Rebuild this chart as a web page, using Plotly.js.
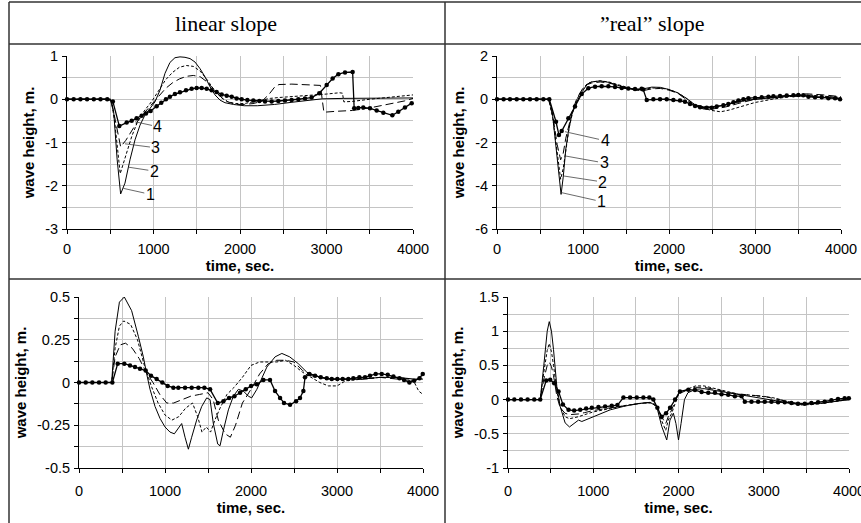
<!DOCTYPE html>
<html>
<head>
<meta charset="utf-8">
<script src="https://cdn.plot.ly/plotly-3.0.1.min.js"></script>
<style>html,body{margin:0;padding:0;background:#fff;}#chart{width:861px;height:523px;}</style>
</head>
<body>
<div id="chart"></div>
<script>
// ---------- Panel headers ----------
const HEADERS = ["linear slope", "\u201Dreal\u201D slope"];
const X_TITLE = "time, sec.";
const Y_TITLE = "wave height, m.";
const SERIES_LABELS = ["1", "2", "3", "4"];

// ---------- Ticks ----------
const X_TICKS = [0, 1000, 2000, 3000, 4000];
const X_TICKTEXT = ["0", "1000", "2000", "3000", "4000"];
const X_MINOR = [500, 1500, 2500, 3500];

const P1_YTICKS = [-3, -2, -1, 0, 1];
const P1_YTEXT = ["-3", "-2", "-1", "0", "1"];
const P1_YMINOR = [-2.5, -1.5, -0.5, 0.5];
const P2_YTICKS = [-6, -4, -2, 0, 2];
const P2_YTEXT = ["-6", "-4", "-2", "0", "2"];
const P2_YMINOR = [-5, -3, -1, 1];
const P3_YTICKS = [-0.5, -0.25, 0, 0.25, 0.5];
const P3_YTEXT = ["-0.5", "-0.25", "0", "0.25", "0.5"];
const P3_YMINOR = [-0.375, -0.125, 0.125, 0.375];
const P4_YTICKS = [-1, -0.5, 0, 0.5, 1, 1.5];
const P4_YTEXT = ["-1", "-0.5", "0", "0.5", "1", "1.5"];
const P4_YMINOR = [-0.75, -0.25, 0.25, 0.75, 1.25];

// ---------- Panel 1: linear slope (top) ----------
const P1_T1 = [0,500,540,580,620,670,728,786,844,902,960,1017,1075,1133,1190,1248,1306,1364,1422,1480,1537,1595,1653,1711,1769,1826,1923,2050,2200,2400,2600,2800,2950,3200,3500,3800,4000];
const P1_Y1 = [0,0,-0.3,-1.4,-2.19,-1.94,-1.40,-0.94,-0.60,-0.36,-0.21,-0.06,0.21,0.60,0.85,0.96,0.98,0.97,0.94,0.86,0.71,0.52,0.29,0.10,-0.02,-0.08,-0.12,-0.15,-0.15,-0.12,-0.07,-0.02,0.01,0.02,0.02,0.03,0.03];
const P1_T2 = [0,510,550,615,680,750,820,900,980,1060,1140,1220,1300,1380,1460,1540,1620,1700,1780,1860,1950,2050,2150,2250,2350,2450,2600,2800,3000,3150,3185,3200,3300,3500,3700,3900,4000];
const P1_Y2 = [0,0,-0.5,-1.72,-1.3,-0.85,-0.5,-0.25,-0.05,0.2,0.45,0.62,0.74,0.78,0.76,0.65,0.45,0.22,0.04,-0.06,-0.1,-0.1,-0.06,-0.02,0.02,0.04,0.06,0.08,0.12,0.15,0.14,-0.06,-0.05,0.0,0.04,0.08,0.1];
const P1_T3 = [0,510,560,620,680,750,820,900,980,1060,1140,1220,1300,1380,1460,1540,1620,1700,1780,1860,1950,2050,2150,2250,2330,2400,2450,2600,2800,2930,2950,2970,3100,3300,3500,3700,3900,4000];
const P1_Y3 = [0,0,-0.5,-1.1,-0.95,-0.72,-0.5,-0.3,-0.12,0.08,0.25,0.38,0.47,0.53,0.55,0.52,0.4,0.22,0.05,-0.06,-0.12,-0.12,-0.1,-0.05,0.1,0.28,0.34,0.35,0.34,0.32,0.0,-0.3,-0.28,-0.26,-0.2,-0.12,-0.04,0.02];
const P1_T4 = [0,77,155,232,310,387,465,530,605,690,748,805,863,913,967,1036,1090,1144,1190,1248,1306,1376,1441,1499,1557,1615,1672,1730,1788,1846,1904,1961,2019,2085,2154,2223,2289,2366,2443,2520,2597,2674,2751,2828,2917,3002,3071,3137,3214,3302,3320,3368,3425,3503,3580,3657,3761,3830,3907,3985];
const P1_Y4 = [0,0,0,0,0,0,0,-0.05,-0.62,-0.54,-0.50,-0.44,-0.38,-0.33,-0.27,-0.16,-0.08,0,0.06,0.12,0.16,0.21,0.24,0.26,0.26,0.24,0.21,0.17,0.11,0.08,0.06,0.02,0,-0.02,-0.03,-0.04,-0.05,-0.05,-0.04,-0.03,-0.02,0,0.02,0.04,0.14,0.33,0.48,0.58,0.62,0.63,-0.21,-0.20,-0.19,-0.21,-0.26,-0.31,-0.37,-0.29,-0.19,-0.09];
const P1_LABEL_X = [651, 709, 670, 786];
const P1_LABEL_Y = [-2.06, -1.57, -1.03, -0.52];

// ---------- Panel 2: "real" slope (top) ----------
const P2_T1 = [0,600,640,680,720,745,770,800,830,870,930,990,1050,1100,1200,1300,1400,1500,1600,1700,1800,1900,2000,2100,2200,2300,2400,2500,2600,2700,2800,2900,3000,3200,3400,3600,3800,4000];
const P2_Y1 = [0,0,-0.5,-1.9,-3.6,-4.4,-3.6,-2.3,-1.5,-0.7,-0.1,0.35,0.7,0.8,0.85,0.78,0.65,0.52,0.45,0.48,0.56,0.55,0.45,0.3,0.05,-0.25,-0.35,-0.35,-0.3,-0.22,-0.12,-0.05,0.0,0.08,0.13,0.15,0.1,0.03];
const P2_T23 = [0,600,650,700,740,770,800,840,880,930,990,1050,1100,1200,1300,1400,1500,1600,1700,1800,1900,2000,2100,2200,2300,2400,2500,2600,2700,2800,2900,3000,3200,3400,3600,3800,4000];
const P2_Y2 = [0,0,-0.9,-2.6,-3.7,-3.2,-2.3,-1.3,-0.6,0,0.45,0.72,0.8,0.85,0.8,0.68,0.55,0.45,0.45,0.52,0.52,0.45,0.3,0.05,-0.25,-0.42,-0.52,-0.58,-0.5,-0.38,-0.25,-0.15,0.0,0.12,0.2,0.15,0.08];
const P2_Y3 = [0,0,-0.8,-2.1,-2.8,-2.5,-1.8,-1.1,-0.5,0.05,0.45,0.68,0.75,0.8,0.75,0.65,0.52,0.42,0.4,0.48,0.5,0.42,0.28,0.0,-0.3,-0.45,-0.45,-0.4,-0.32,-0.2,-0.1,0.0,0.08,0.18,0.25,0.2,0.12];
const P2_T4 = [0,77,151,229,306,384,461,539,608,686,720,752,830,907,985,1062,1140,1217,1295,1372,1450,1527,1605,1682,1700,1741,1818,1896,1973,2051,2128,2186,2245,2303,2361,2438,2497,2555,2632,2690,2749,2807,2865,2923,3001,3078,3156,3214,3291,3369,3446,3504,3562,3621,3698,3776,3853,3931,3989];
const P2_Y4 = [0,0,0,0,0,0,0,0,0,-1.04,-1.65,-1.47,-0.88,-0.34,0.24,0.51,0.58,0.6,0.6,0.57,0.52,0.5,0.47,0.48,0.45,-0.03,0,0,0,-0.03,-0.06,-0.11,-0.22,-0.31,-0.37,-0.39,-0.39,-0.34,-0.28,-0.22,-0.14,-0.06,0,0.05,0.06,0.09,0.12,0.14,0.15,0.17,0.18,0.2,0.18,0.12,0.09,0.09,0.05,0.05,0];
const P2_LABEL_X = [752, 779, 791, 791];
const P2_LABEL_Y = [-4.32, -3.55, -2.62, -1.50];

// ---------- Panel 3: linear slope (bottom) ----------
const P3_T1 = [0,380,420,470,527,612,690,748,787,826,884,942,1000,1058,1109,1155,1194,1233,1272,1310,1368,1427,1485,1524,1562,1613,1640,1679,1737,1795,1853,1911,1969,2008,2068,2184,2280,2359,2450,2550,2650,2750,2900,3100,3300,3500,3700,3900,4000];
const P3_Y1 = [0,0,0.3,0.47,0.50,0.42,0.27,0.15,0.05,-0.04,-0.14,-0.21,-0.26,-0.29,-0.30,-0.27,-0.24,-0.32,-0.39,-0.32,-0.22,-0.14,-0.09,-0.10,-0.24,-0.36,-0.37,-0.28,-0.16,-0.08,-0.04,-0.05,-0.08,-0.09,-0.04,0.09,0.15,0.17,0.15,0.11,0.06,0.04,0.02,0.02,0.02,0.03,0.03,0.02,0.02];
const P3_T2 = [0,380,420,470,520,600,680,760,840,920,1000,1080,1160,1240,1320,1380,1430,1480,1530,1580,1640,1720,1800,1900,2000,2100,2200,2300,2400,2500,2600,2700,2800,2900,3000,3100,3300,3500,3700,3850,3900,3950,4000];
const P3_Y2 = [0,0,0.2,0.33,0.36,0.34,0.25,0.1,-0.02,-0.12,-0.19,-0.22,-0.2,-0.15,-0.12,-0.2,-0.29,-0.26,-0.29,-0.22,-0.15,-0.07,-0.03,0.03,0.1,0.12,0.12,0.12,0.13,0.1,0.06,0.03,0,-0.02,-0.02,0.01,0.02,0.03,0.03,0.02,0.0,-0.05,-0.07];
const P3_T3 = [0,380,420,480,540,620,700,780,860,940,1020,1100,1200,1300,1400,1500,1560,1620,1700,1760,1820,1900,2000,2100,2200,2300,2400,2500,2600,2700,2800,2900,3000,3300,3500,3700,3900,4000];
const P3_Y3 = [0,0,0.15,0.22,0.23,0.2,0.14,0.06,0,-0.07,-0.12,-0.12,-0.1,-0.08,-0.07,-0.06,-0.1,-0.22,-0.3,-0.32,-0.25,-0.12,-0.04,0.05,0.11,0.13,0.13,0.12,0.07,0.04,0.03,0.02,0.02,0.02,0.03,0.02,0.01,0.03];
const P3_T4 = [0,78,155,233,310,388,450,527,593,651,709,775,837,903,969,1031,1097,1155,1233,1310,1388,1458,1524,1613,1679,1745,1807,1873,1939,2001,2067,2144,2221,2280,2338,2384,2454,2524,2570,2609,2628,2679,2745,2811,2881,2939,3004,3066,3132,3190,3260,3326,3384,3450,3520,3590,3656,3726,3780,3842,3897,3959,3997];
const P3_Y4 = [0,0,0,0,0,0,0.11,0.11,0.10,0.09,0.08,0.07,0.04,0.02,0,-0.02,-0.03,-0.03,-0.03,-0.03,-0.03,-0.03,-0.04,-0.12,-0.11,-0.09,-0.08,-0.06,-0.04,-0.02,-0.01,0.015,0.015,-0.05,-0.09,-0.12,-0.13,-0.11,-0.09,-0.05,0.03,0.05,0.04,0.03,0.025,0.02,0.02,0.02,0.02,0.025,0.03,0.03,0.04,0.05,0.05,0.045,0.035,0.025,0.015,0,0.01,0.025,0.05];

// ---------- Panel 4: "real" slope (bottom) ----------
const P4_T1 = [0,378,420,460,484,510,534,573,612,670,721,776,827,866,924,1041,1198,1354,1510,1666,1744,1803,1862,1900,1940,1970,2000,2030,2070,2110,2200,2300,2400,2500,2600,2700,2800,2900,3000,3100,3200,3300,3400,3500,3600,3700,3800,3900,4000];
const P4_Y1 = [0,0,0.5,1.0,1.14,1.0,0.73,0.19,-0.10,-0.34,-0.40,-0.35,-0.30,-0.32,-0.29,-0.22,-0.15,-0.10,-0.06,-0.04,-0.10,-0.39,-0.59,-0.3,-0.2,-0.35,-0.59,-0.35,0.0,0.1,0.15,0.16,0.14,0.12,0.1,0.08,0.06,0.04,0.02,0.0,-0.02,-0.05,-0.07,-0.07,-0.06,-0.05,-0.03,-0.01,0.0];
const P4_T23 = [0,378,420,460,484,510,534,573,612,670,721,776,827,900,1000,1200,1400,1600,1700,1760,1800,1850,1880,1920,1960,2000,2100,2200,2300,2400,2500,2600,2700,2800,2900,3000,3100,3200,3300,3400,3500,3600,3700,3800,3900,4000];
const P4_Y2 = [0,0,0.4,0.72,0.82,0.7,0.5,0.12,-0.1,-0.25,-0.28,-0.27,-0.25,-0.22,-0.18,-0.13,-0.08,-0.05,-0.05,-0.15,-0.3,-0.45,-0.3,-0.2,-0.05,0.08,0.15,0.2,0.2,0.17,0.14,0.11,0.08,0.07,0.06,0.05,0.03,0.0,-0.05,-0.08,-0.08,-0.07,-0.05,-0.03,-0.02,0.0];
const P4_Y3 = [0,0,0.3,0.5,0.55,0.48,0.35,0.05,-0.12,-0.2,-0.22,-0.22,-0.21,-0.19,-0.16,-0.12,-0.08,-0.05,-0.04,-0.12,-0.25,-0.35,-0.25,-0.15,-0.02,0.08,0.14,0.18,0.18,0.16,0.13,0.1,0.08,0.07,0.06,0.05,0.02,-0.01,-0.04,-0.06,-0.07,-0.06,-0.05,-0.03,-0.01,0.01];
const P4_T4 = [0,74,152,230,308,378,448,495,542,593,644,710,776,847,917,983,1061,1139,1217,1284,1354,1432,1510,1588,1658,1705,1752,1803,1854,1901,1960,2017,2115,2193,2271,2349,2427,2505,2583,2661,2739,2778,2856,2934,3012,3090,3168,3246,3324,3402,3481,3559,3637,3715,3793,3871,3949,3998];
const P4_Y4 = [0,0,0,0,0,0,0.28,0.29,0.24,0.12,-0.07,-0.15,-0.16,-0.15,-0.13,-0.12,-0.11,-0.10,-0.09,-0.08,0.03,0.03,0.03,0.03,0.03,0,-0.12,-0.25,-0.20,-0.12,0,0.12,0.145,0.14,0.11,0.10,0.10,0.08,0.07,0.05,0.05,-0.03,-0.03,-0.03,-0.03,-0.03,-0.04,-0.04,-0.05,-0.06,-0.06,-0.05,-0.04,-0.03,-0.01,0.01,0.02,0.02];

// ---------- Build ----------
const W = 861, H = 523;
const px = v => v / W;
const py = v => 1 - v / H;
const GRID = '#c4c4c4';
const FONT = 'Liberation Sans, Arial, sans-serif';

function lineTrace(x, y, xa, ya, dash, width) {
  return {x, y, xaxis: xa, yaxis: ya, type: 'scatter', mode: 'lines',
    line: {color: '#000', width: width || 1, dash: dash || 'solid'}, hoverinfo: 'skip'};
}
function markTrace(x, y, xa, ya) {
  return {x, y, xaxis: xa, yaxis: ya, type: 'scatter', mode: 'lines+markers', cliponaxis: false,
    line: {color: '#000', width: 1.3}, marker: {color: '#000', size: 4.5}, hoverinfo: 'skip'};
}

const traces = [
  lineTrace(P1_T1, P1_Y1, 'x', 'y', 'solid'),
  lineTrace(P1_T2, P1_Y2, 'x', 'y', '3px,2px'),
  lineTrace(P1_T3, P1_Y3, 'x', 'y', '8px,4px'),
  markTrace(P1_T4, P1_Y4, 'x', 'y'),
  lineTrace(P2_T1, P2_Y1, 'x2', 'y2', 'solid'),
  lineTrace(P2_T23, P2_Y2, 'x2', 'y2', '3px,2px'),
  lineTrace(P2_T23, P2_Y3, 'x2', 'y2', '8px,4px'),
  markTrace(P2_T4, P2_Y4, 'x2', 'y2'),
  lineTrace(P3_T1, P3_Y1, 'x3', 'y3', 'solid'),
  lineTrace(P3_T2, P3_Y2, 'x3', 'y3', '3px,2px'),
  lineTrace(P3_T3, P3_Y3, 'x3', 'y3', '8px,4px'),
  markTrace(P3_T4, P3_Y4, 'x3', 'y3'),
  lineTrace(P4_T1, P4_Y1, 'x4', 'y4', 'solid'),
  lineTrace(P4_T23, P4_Y2, 'x4', 'y4', '3px,2px'),
  lineTrace(P4_T23, P4_Y3, 'x4', 'y4', '8px,4px'),
  markTrace(P4_T4, P4_Y4, 'x4', 'y4')
];

function xaxis(domain, anchor, labStand, titleStand) {
  return {domain, anchor, range: [0, 4000], tickmode: 'array', tickvals: X_TICKS, ticktext: X_TICKTEXT,
    ticks: 'outside', ticklen: 4, tickcolor: '#000', ticklabelstandoff: labStand, ticklabeloverflow: 'allow',
    showline: true, linecolor: '#000', linewidth: 1, showgrid: true, gridcolor: GRID, gridwidth: 1,
    zeroline: false, tickfont: {family: FONT, size: 14.5, color: '#000'},
    minor: {tickvals: X_MINOR, ticks: 'outside', ticklen: 4, tickcolor: '#000', showgrid: true, gridcolor: GRID, gridwidth: 1},
    title: {text: X_TITLE, standoff: titleStand, font: {family: FONT, size: 15, color: '#000', weight: 'bold'}},
    fixedrange: true};
}
function yaxis(domain, anchor, range, tv, tt, mv, titleStand) {
  return {domain, anchor, range, tickmode: 'array', tickvals: tv, ticktext: tt,
    ticks: 'outside', ticklen: 4, tickcolor: '#000', ticklabelstandoff: 1, ticklabeloverflow: 'allow',
    showline: true, linecolor: '#000', linewidth: 1, showgrid: true, gridcolor: GRID, gridwidth: 1,
    zeroline: false, tickfont: {family: FONT, size: 14.5, color: '#000'},
    minor: {tickvals: mv, ticks: 'outside', ticklen: 4, tickcolor: '#000', showgrid: true, gridcolor: GRID, gridwidth: 1},
    title: {text: Y_TITLE, standoff: titleStand, font: {family: FONT, size: 15, color: '#000', weight: 'bold'}},
    fixedrange: true};
}

const annotations = [
  {text: HEADERS[0], xref: 'paper', yref: 'paper', x: px(226), y: py(23), showarrow: false,
   font: {family: 'Liberation Serif, Times New Roman, serif', size: 22, color: '#000'}, xanchor: 'center', yanchor: 'middle'},
  {text: HEADERS[1], xref: 'paper', yref: 'paper', x: px(652), y: py(23), showarrow: false,
   font: {family: 'Liberation Serif, Times New Roman, serif', size: 22, color: '#000'}, xanchor: 'center', yanchor: 'middle'}
];
const P1_OFF = [[27, 6], [26, 4], [31, 4], [23, 5]];
const P2_OFF = [[40, 9], [39, 6], [39, 7], [40, 9]];
for (let i = 0; i < 4; i++) {
  annotations.push({text: SERIES_LABELS[i], x: P1_LABEL_X[i], y: P1_LABEL_Y[i], xref: 'x', yref: 'y',
    ax: P1_OFF[i][0], ay: P1_OFF[i][1], showarrow: true, arrowhead: 0, arrowwidth: 0.8, arrowcolor: '#444',
    font: {family: FONT, size: 16, color: '#000'}, standoff: 0});
  annotations.push({text: SERIES_LABELS[i], x: P2_LABEL_X[i], y: P2_LABEL_Y[i], xref: 'x2', yref: 'y2',
    ax: P2_OFF[i][0], ay: P2_OFF[i][1], showarrow: true, arrowhead: 0, arrowwidth: 0.8, arrowcolor: '#444',
    font: {family: FONT, size: 16, color: '#000'}, standoff: 0});
}

const BORDER = {color: '#333', width: 1.5};
const shapes = [
  {type: 'line', xref: 'paper', yref: 'paper', x0: px(9), x1: 1, y0: py(2), y1: py(2), line: BORDER},
  {type: 'line', xref: 'paper', yref: 'paper', x0: px(9), x1: 1, y0: py(44), y1: py(44), line: BORDER},
  {type: 'line', xref: 'paper', yref: 'paper', x0: px(9), x1: 1, y0: py(279), y1: py(279), line: BORDER},
  {type: 'line', xref: 'paper', yref: 'paper', x0: px(9), x1: px(9), y0: py(2), y1: 0, line: BORDER},
  {type: 'line', xref: 'paper', yref: 'paper', x0: px(445), x1: px(445), y0: py(2), y1: 0, line: BORDER}
];

const layout = {
  width: W, height: H, margin: {l: 0, r: 0, t: 0, b: 0},
  paper_bgcolor: '#fff', plot_bgcolor: '#fff', showlegend: false,
  font: {family: FONT, color: '#000'},
  xaxis: xaxis([px(67), px(413)], 'y', 3, 1),
  yaxis: yaxis([py(229), py(56)], 'x', [-3, 1], P1_YTICKS, P1_YTEXT, P1_YMINOR, 6),
  xaxis2: xaxis([px(497), px(841)], 'y2', 3, 1),
  yaxis2: yaxis([py(229), py(56)], 'x2', [-6, 2], P2_YTICKS, P2_YTEXT, P2_YMINOR, 6),
  xaxis3: xaxis([px(79), px(423)], 'y3', 6, 4),
  yaxis3: yaxis([py(468), py(297)], 'x3', [-0.5, 0.5], P3_YTICKS, P3_YTEXT, P3_YMINOR, 6),
  xaxis4: xaxis([px(508), px(849)], 'y4', 6, 4),
  yaxis4: yaxis([py(468), py(297)], 'x4', [-1, 1.5], P4_YTICKS, P4_YTEXT, P4_YMINOR, 6),
  annotations, shapes
};

Plotly.newPlot('chart', traces, layout, {staticPlot: true, displayModeBar: false});
</script>
</body>
</html>
